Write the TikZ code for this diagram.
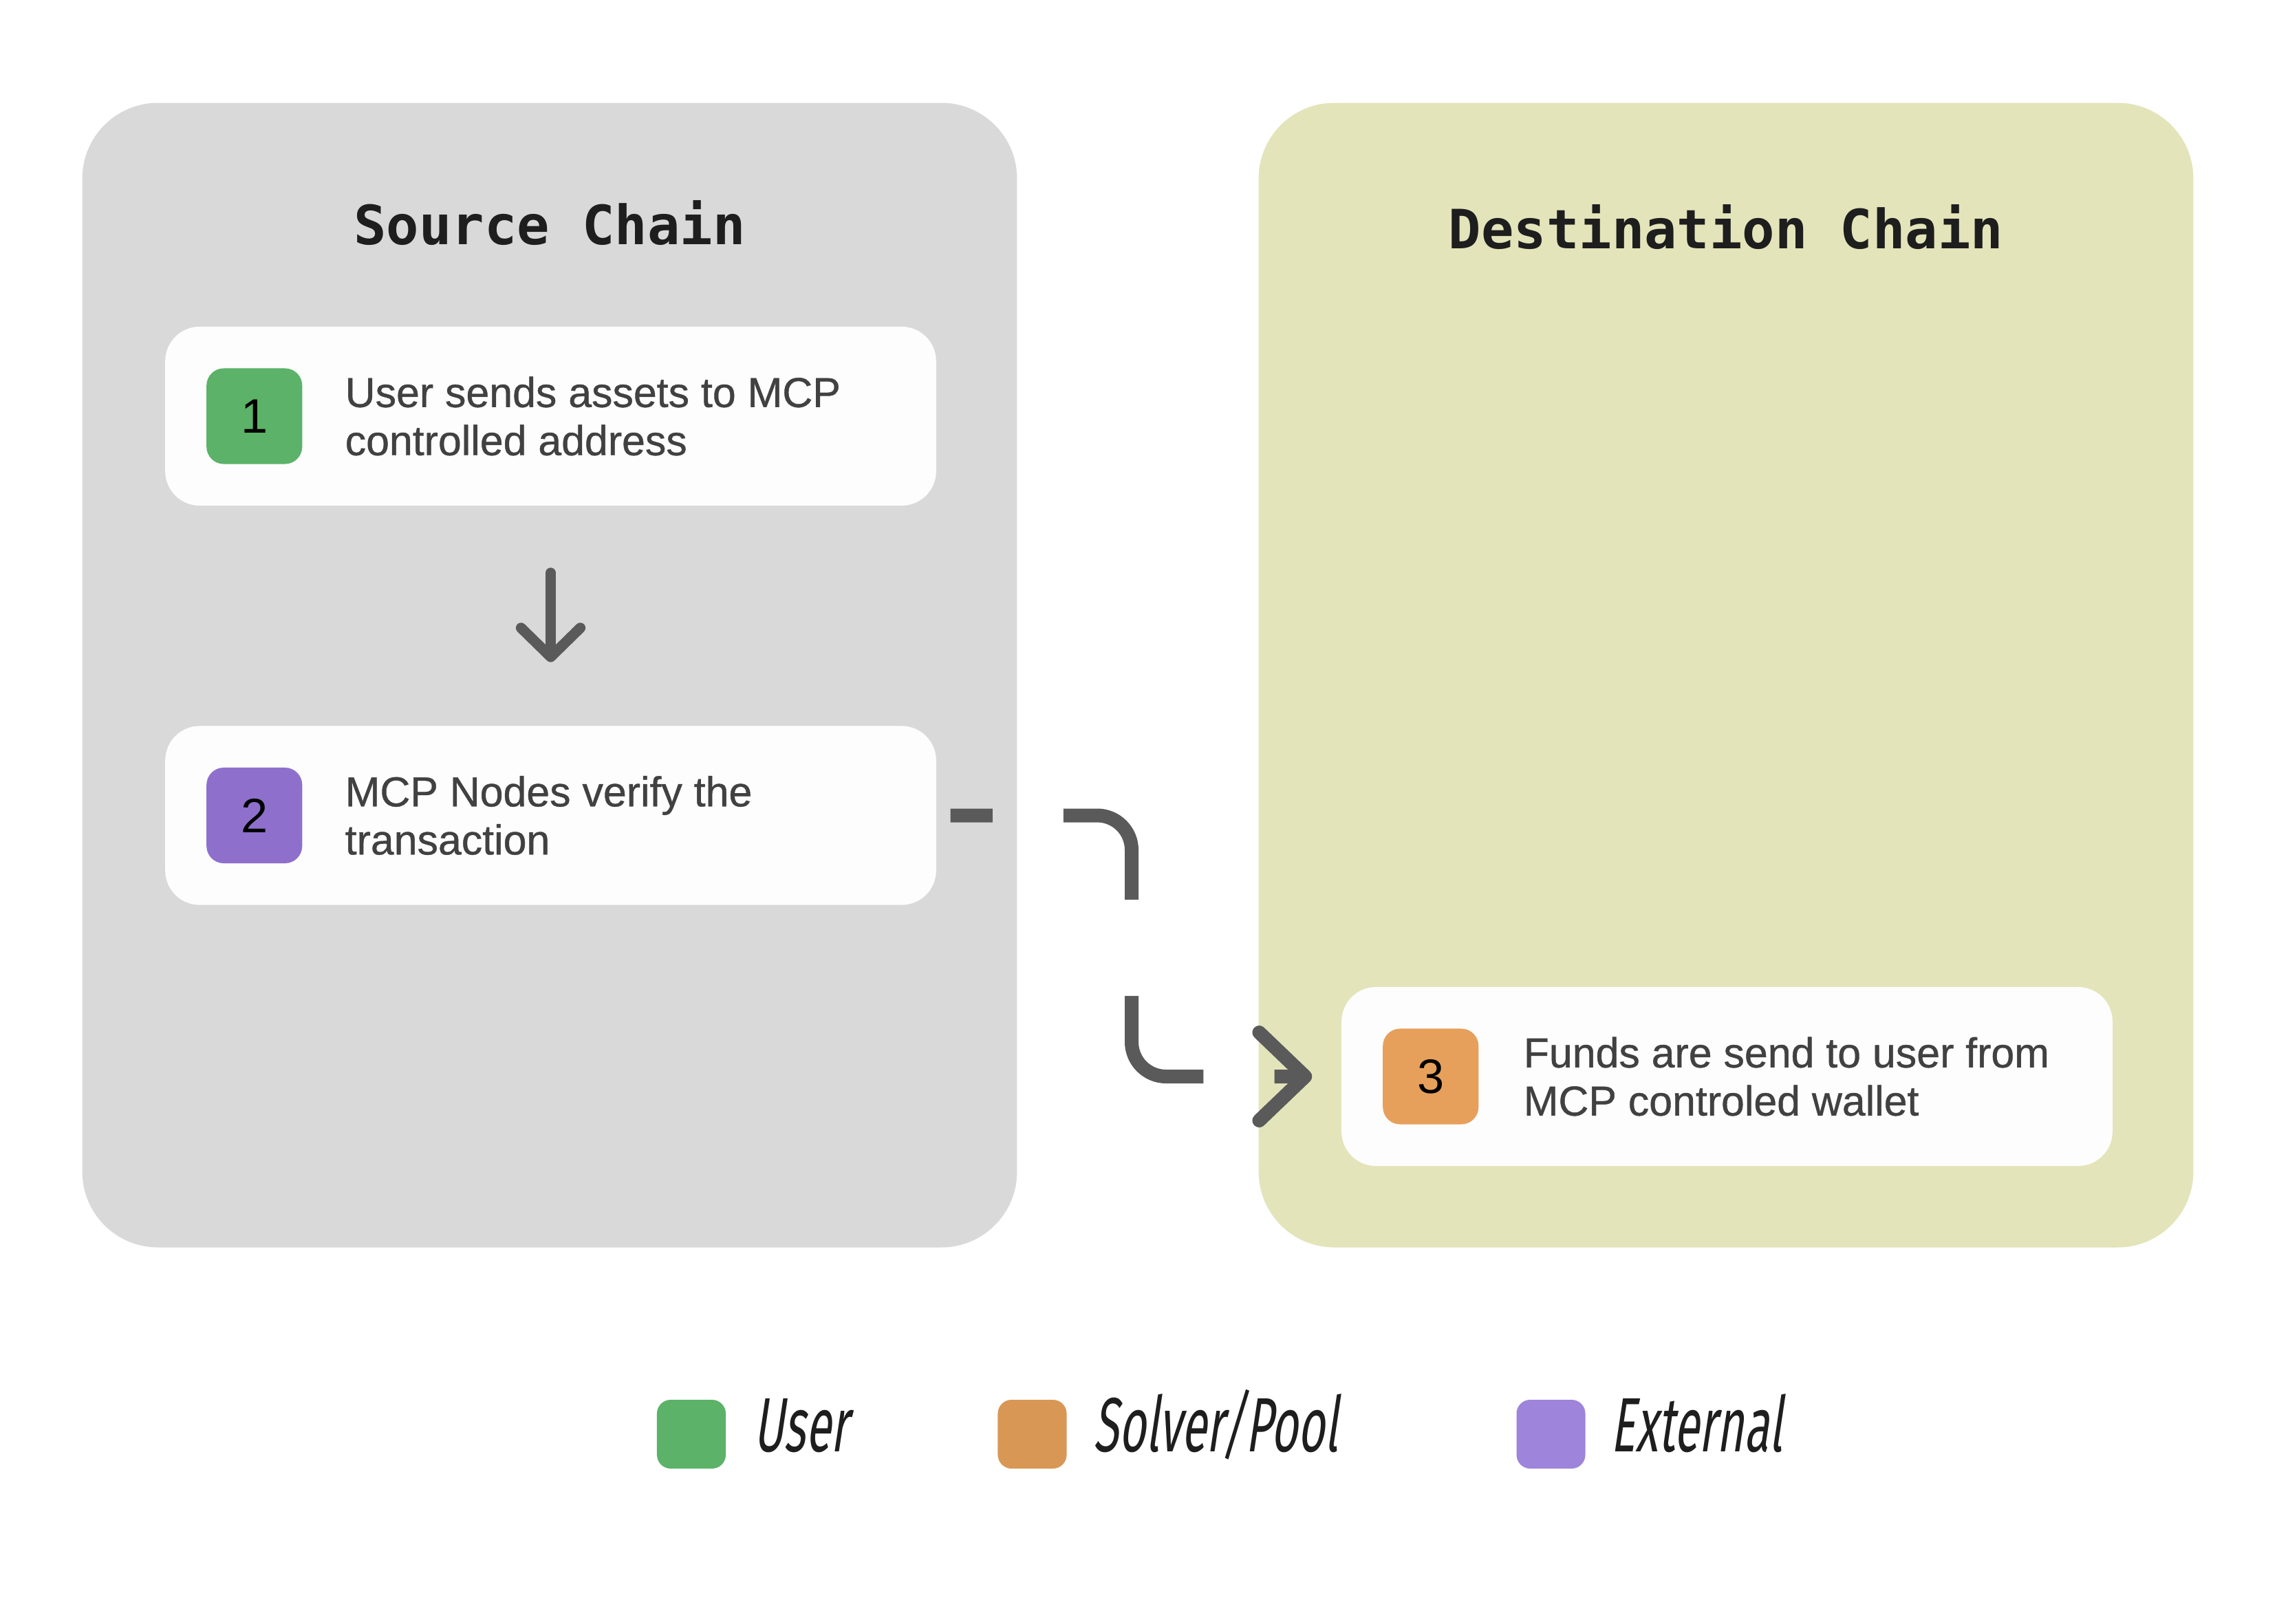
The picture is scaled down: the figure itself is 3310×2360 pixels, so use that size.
\documentclass[tikz,border=0pt]{standalone}
\usepackage{fontspec}
\setmainfont{Liberation Sans}
\newfontfamily\bodyfont[FakeBold=0.7]{Liberation Sans}
\newfontfamily\titlefont{DejaVu Sans Mono}
\newfontfamily\handfont[FakeStretch=0.6,FakeSlant=0.15]{Fira Sans}
\usetikzlibrary{positioning,arrows.meta}
\definecolor{srcgray}{HTML}{D9D9D9}
\definecolor{dstolive}{HTML}{E3E4BA}
\definecolor{boxwhite}{HTML}{FDFDFD}
\definecolor{usergreen}{HTML}{5BB268}
\definecolor{extpurple}{HTML}{8E70CC}
\definecolor{poolorange}{HTML}{E6A05C}
\definecolor{keyorange}{HTML}{D99755}
\definecolor{keypurple}{HTML}{9E84DA}
\definecolor{bodyink}{HTML}{414141}
\definecolor{titleink}{HTML}{1E1E1E}
\definecolor{arrowgray}{HTML}{5A5A5A}

\begin{document}
\begin{tikzpicture}[x=0.01cm, y=-0.01cm,
  panel/.style={rounded corners=1.1cm, minimum width=13.58cm, minimum height=16.63cm, inner sep=0pt},
  title/.style={anchor=base, inner sep=0pt, text=titleink, font=\titlefont\bfseries\fontsize{22.4}{26}\selectfont},
  box/.style={fill=boxwhite, rounded corners=0.5cm, minimum width=11.2cm, minimum height=2.6cm, inner sep=0pt},
  badge/.style={rounded corners=0.25cm, minimum size=1.39cm, inner sep=0pt, text=black, font=\fontsize{20}{24}\selectfont},
  lbl/.style={inner sep=0pt, align=left, text=bodyink, font=\bodyfont\fontsize{17.3}{19.9}\selectfont},
  key/.style={rounded corners=0.2cm, minimum size=1cm, inner sep=0pt},
  keytext/.style={anchor=base west, inner sep=0pt, text=titleink, font=\handfont\fontsize{31.8}{36}\selectfont},
  arr/.style={draw=arrowgray, line width=4.3pt, line cap=round, line join=round, -{Straight Barb[round, length=12pt, width=24.5pt]}},
  hop/.style={draw=arrowgray, line width=5.7pt, line join=round, rounded corners=0.5cm,
    dash pattern=on 17.4pt off 29.3pt on 56.9pt off 39.8pt on 56.9pt off 29.3pt on 60pt off 20pt,
    -{Straight Barb[round, length=19pt, width=36.4pt]}}]
\fill[white] (0,0) rectangle (3310,2360);
\useasboundingbox (0,0) rectangle (3310,2360);
% chains
\node[panel, fill=srcgray] (src) at (799,981.5) {};
\node[panel, fill=dstolive] (dst) at (2509,981.5) {};
\node[title] (srct) at (799,355) {Source Chain};
\node[title] (dstt) at (2509,361) {Destination Chain};
% steps
\node[box] (n1) at (800.5,605) {};
\node[badge, fill=usergreen, right=0.6cm of n1.west, anchor=west] (b1) {1};
\node[lbl, right=0.61cm of b1.east, anchor=west] (t1) {User sends assets to MCP\\controlled address};
\node[box] (n2) at (800.5,1185.5) {};
\node[badge, fill=extpurple, right=0.6cm of n2.west, anchor=west] (b2) {2};
\node[lbl, right=0.61cm of b2.east, anchor=west] (t2) {MCP Nodes verify the\\transaction};
\node[box] (n3) at (2510.5,1565) {};
\node[badge, fill=poolorange, right=0.6cm of n3.west, anchor=west] (b3) {3};
\node[lbl, right=0.64cm of b3.east, anchor=west] (t3) {Funds are send to user from\\MCP controled wallet};
\coordinate (bend) at (1645,1375);
\draw[arr, shorten <=27.6pt, shorten >=26.2pt] (n1.south) -- (n2.north);
\draw[hop, shorten <=5.7pt, shorten >=12pt] (n2.east) -| (bend) |- (n3.west);
% legend
\node[key, fill=usergreen] (k1) at (1005,2085) {};
\node[keytext] (k1t) at (1095,2110) {User};
\node[key, fill=keyorange] (k2) at (1500.5,2085) {};
\node[keytext] (k2t) at (1589,2110) {Solver/Pool};
\node[key, fill=keypurple] (k3) at (2254.5,2085) {};
\node[keytext] (k3t) at (2341,2110) {External};
\end{tikzpicture}
\end{document}
